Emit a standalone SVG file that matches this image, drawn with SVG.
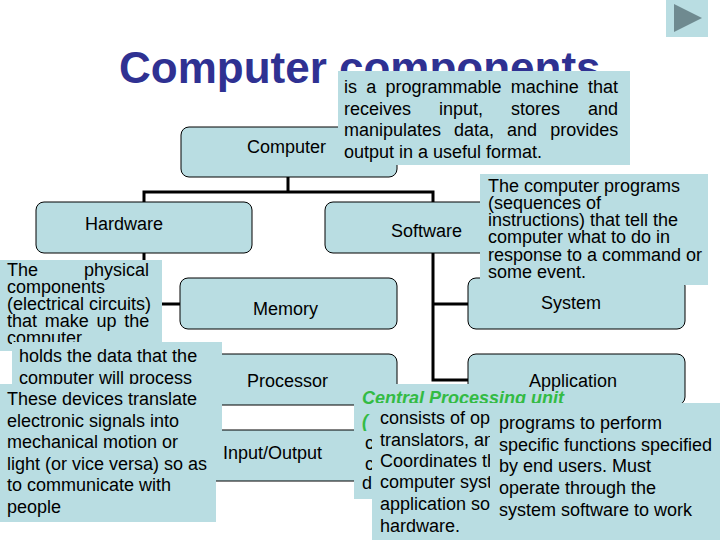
<svg xmlns="http://www.w3.org/2000/svg" width="720" height="540" viewBox="0 0 720 540">
<style>
text{font-family:"Liberation Sans",Arial,sans-serif;fill:#000}
.n{fill:#b9dde2;stroke:#000;stroke-width:1}
.p{fill:#b9dde2}
.l,.t{font-size:18px}
.g{font-size:18px;font-weight:bold;font-style:italic;fill:#33bb44}
.c{fill:none;stroke:#000;stroke-width:3}
</style>
<rect width="720" height="540" fill="#fff"/>
<g id="button"><rect class="p" x="666" y="0" width="42" height="37"/><polygon points="674,4 702,18 674,32" fill="#6f8a90"/></g>
<text id="title" x="119" y="83" font-size="44" font-weight="bold" style="fill:#2f3192">Computer components</text>
<g id="connectors">
<path class="c" d="M288 177V192M144 202V192H433V202"/>
<path class="c" d="M144 253V304H180"/>
<path class="c" d="M433 253V380H468M433 304H468"/>
</g>
<g id="node-computer"><rect class="n" x="181" y="127" width="216" height="50" rx="8"/><text class="l" x="247" y="153">Computer</text></g>
<g id="node-hardware"><rect class="n" x="36" y="202" width="216" height="51" rx="8"/><text class="l" x="85" y="230">Hardware</text></g>
<g id="node-software"><rect class="n" x="325" y="202" width="216" height="51" rx="8"/><text class="l" x="391" y="237">Software</text></g>
<g id="node-memory"><rect class="n" x="180" y="278" width="217" height="51" rx="8"/><text class="l" x="253" y="315">Memory</text></g>
<g id="node-processor"><rect class="n" x="180" y="354" width="217" height="51" rx="8"/><text class="l" x="247" y="387">Processor</text></g>
<g id="node-io"><rect class="n" x="180" y="430" width="217" height="51" rx="8"/><text class="l" x="223" y="459">Input/Output</text></g>
<g id="node-system"><rect class="n" x="468" y="278" width="217" height="51" rx="8"/><text class="l" x="541" y="309">System</text></g>
<g id="node-application"><rect class="n" x="468" y="354" width="217" height="51" rx="8"/><text class="l" x="529" y="387">Application</text></g>
<g id="popup-computer"><rect class="p" x="338" y="71" width="292" height="94"/>
<text class="t" x="344" y="93" word-spacing="4.25">is a programmable machine that</text>
<text class="t" x="344" y="115" word-spacing="23">receives input, stores and</text>
<text class="t" x="344" y="136" word-spacing="8">manipulates data, and provides</text>
<text class="t" x="344" y="158">output in a useful format.</text>
</g>
<g id="popup-software"><rect class="p" x="480" y="174" width="228" height="111"/>
<text class="t" x="488" y="192">The computer programs</text><text class="t" x="488" y="209">(sequences of</text><text class="t" x="488" y="226">instructions) that tell the</text><text class="t" x="488" y="243">computer what to do in</text><text class="t" x="488" y="261">response to a command or</text><text class="t" x="488" y="278">some event.</text></g>
<g id="popup-hardware"><rect class="p" x="0" y="260" width="162" height="91"/>
<text class="t" x="7" y="276" word-spacing="41">The physical</text>
<text class="t" x="7" y="293">components</text>
<text class="t" x="7" y="310">(electrical circuits)</text>
<text class="t" x="7" y="327" word-spacing="2.7">that make up the</text>
<text class="t" x="7" y="344">computer</text></g>
<g id="popup-memory"><rect class="p" x="12" y="342" width="210" height="118"/>
<text class="t" x="19" y="362">holds the data that the</text>
<text class="t" x="19" y="384">computer will process</text></g>
<g id="popup-io"><rect class="p" x="0" y="384" width="216" height="138"/>
<text class="t" x="7" y="405">These devices translate</text>
<text class="t" x="7" y="427">electronic signals into</text>
<text class="t" x="7" y="448">mechanical motion or</text>
<text class="t" x="7" y="470">light (or vice versa) so as</text>
<text class="t" x="7" y="491">to communicate with</text>
<text class="t" x="7" y="513">people</text></g>
<g id="popup-cpu"><rect class="p" x="354" y="384" width="150" height="115"/>
<text class="g" x="362" y="404">Central Processing unit</text>
<text class="g" x="362" y="427">(</text>
<text class="t" x="365" y="449">c</text>
<text class="t" x="365" y="470">c</text>
<text class="t" x="362" y="489">d</text></g>
<g id="popup-processor"><rect class="p" x="372" y="403" width="130" height="137"/>
<text class="t" x="380" y="424">consists of ope</text>
<text class="t" x="380" y="446">translators, an</text>
<text class="t" x="380" y="467">Coordinates th</text>
<text class="t" x="380" y="488">computer syst</text>
<text class="t" x="380" y="510">application sof</text>
<text class="t" x="380" y="532">hardware.</text></g>
<g id="popup-application"><rect class="p" x="490" y="403" width="230" height="137"/>
<text class="t" x="499" y="429">programs to perform</text>
<text class="t" x="499" y="451">specific functions specified</text>
<text class="t" x="499" y="472">by end users. Must</text>
<text class="t" x="499" y="494">operate through the</text>
<text class="t" x="499" y="516">system software to work</text></g>
</svg>
